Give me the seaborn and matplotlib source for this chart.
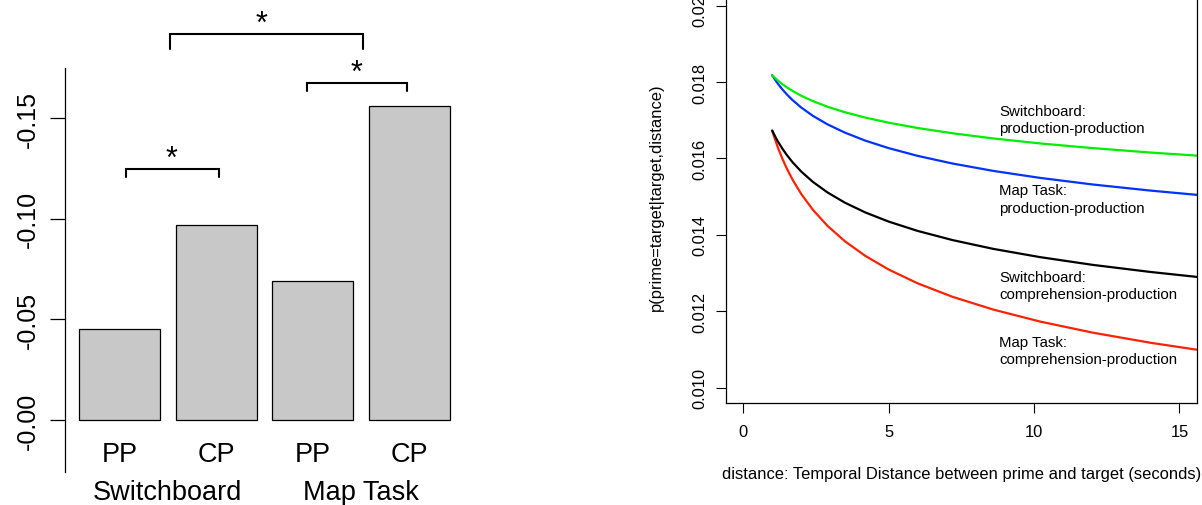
import numpy as np
import pandas as pd
import matplotlib
matplotlib.use('Agg')
import matplotlib.pyplot as plt
import seaborn as sns

# left panel: priming effects per corpus and condition (drawn on an inverted axis)
bar_ids = ['SB-PP', 'SB-CP', 'MT-PP', 'MT-CP']
conditions = ['PP', 'CP', 'PP', 'CP']
corpora = ['Switchboard', 'Map Task']
effects = [-0.0454, -0.0968, -0.0689, -0.1559]
effect_ticks = [0.0, -0.05, -0.10, -0.15]
effect_ticklabels = ['-0.00', '-0.05', '-0.10', '-0.15']

# significance brackets: left x, right x, top, leg end, star x
brackets = [(0.07, 1.03, -0.1248, -0.1206, 0.54),
            (1.94, 2.97, -0.1678, -0.1634, 2.45),
            (0.52, 2.52, -0.1920, -0.1847, 1.47)]

# right panel: values
distance = [1.0, 1.1, 1.2, 1.35, 1.5, 1.7, 2.0, 2.4, 2.9, 3.5, 4.2, 5.0,
            6.0, 7.2, 8.6, 10.2, 12.0, 14.0, 15.6]
sb_pp = [0.01818, 0.018106, 0.018038, 0.017946, 0.017865, 0.017768, 0.017642,
         0.017501, 0.017355, 0.017211, 0.017071, 0.016938, 0.016798, 0.01666,
         0.016525, 0.016395, 0.016273, 0.016156, 0.016075]
mt_pp = [0.01818, 0.018061, 0.017953, 0.017808, 0.01768, 0.017528, 0.017333,
         0.017116, 0.016894, 0.016677, 0.016468, 0.016272, 0.016069, 0.015868,
         0.015675, 0.015493, 0.015321, 0.01516, 0.015048]
sb_cp = [0.01673, 0.016578, 0.016441, 0.016257, 0.016094, 0.015902, 0.015657,
         0.015387, 0.015112, 0.014843, 0.014588, 0.014349, 0.014104, 0.013864,
         0.013634, 0.013419, 0.013217, 0.01303, 0.0129]
mt_cp = [0.01673, 0.016493, 0.016279, 0.015993, 0.015741, 0.015446, 0.015069,
         0.014656, 0.014238, 0.013833, 0.013451, 0.013095, 0.012732, 0.012379,
         0.012045, 0.011733, 0.011444, 0.011177, 0.010994]
curve_names = ['Map Task:\nproduction-production', 'Switchboard:\nproduction-production',
               'Map Task:\ncomprehension-production', 'Switchboard:\ncomprehension-production']
curve_colors = ['#0033ff', '#00ee00', '#ff2200', 'black']
curve_label_y = [0.01494, 0.01703, 0.01097, 0.01267]
label_x = 8.81

sns.set_style('ticks')
plt.rcParams['font.family'] = ['Liberation Sans', 'DejaVu Sans']
plt.rcParams.update({'text.color': 'black', 'axes.labelcolor': 'black',
                     'xtick.color': 'black', 'ytick.color': 'black',
                     'axes.edgecolor': 'black'})

fig = plt.figure(figsize=(12.02, 5.06), dpi=100)

# ---- left: bars
ax1 = fig.add_axes([0.0541, 0.0658, 0.332, 0.797])
bars = pd.DataFrame({'bar': bar_ids, 'effect': effects})
sns.barplot(data=bars, x='bar', y='effect', order=bar_ids, color='#c8c8c8',
            saturation=1, edgecolor='black', linewidth=0.9, width=0.84,
            errorbar=None, ax=ax1)
ax1.set_xlim(-0.564, 3.564)
ax1.set_ylim(0.0257, -0.1748)
sns.despine(ax=ax1, bottom=True)
ax1.spines['left'].set_linewidth(0.9)
ax1.set_yticks(effect_ticks)
ax1.set_yticklabels(effect_ticklabels)
ax1.tick_params(axis='y', left=True, length=10.8, width=0.9, pad=7, labelsize=18)
plt.setp(ax1.get_yticklabels(), rotation=90, va='center')
ax1.set_xticks([])
ax1.set_xlabel('')
ax1.set_ylabel('')

for i, cond in enumerate(conditions):
    ax1.text(i, 0.0202, cond, ha='center', va='baseline', fontsize=19.5)
for j, corpus in enumerate(corpora):
    ax1.text(2 * j + 0.5, 0.0393, corpus, ha='center', va='baseline', fontsize=19.5)

for x0, x1, top, leg, sx in brackets:
    ax1.plot([x0, x0, x1, x1], [leg, top, top, leg], color='black', lw=1.5,
             solid_joinstyle='miter', clip_on=False)
    ax1.text(sx, top - 0.0008, '*', ha='center', va='baseline',
             fontsize=22, clip_on=False)

# ---- right: decay curves
ax2 = fig.add_axes([0.6037, 0.2016, 0.3921, 0.8154])
curves = pd.DataFrame({
    'distance': distance * 4,
    'p': mt_pp + sb_pp + mt_cp + sb_cp,
    'curve': np.repeat(curve_names, len(distance)),
})
sns.lineplot(data=curves, x='distance', y='p', hue='curve', hue_order=curve_names,
             palette=dict(zip(curve_names, curve_colors)), estimator=None,
             sort=False, lw=1.6, legend=False, ax=ax2)
ax2.set_xlim(-0.6, 15.6)
ax2.set_ylim(0.0096, 0.0204)
for s in ax2.spines.values():
    s.set_visible(True)
    s.set_linewidth(0.9)
ax2.set_xticks([0, 5, 10, 15])
yt = [0.010, 0.012, 0.014, 0.016, 0.018, 0.020]
ax2.set_yticks(yt)
ax2.set_yticklabels([f'{v:.3f}' for v in yt])
ax2.tick_params(axis='both', length=7.2, width=0.8, labelsize=11.9)
ax2.tick_params(axis='x', bottom=True, pad=8.0)
ax2.tick_params(axis='y', left=True, pad=6.2)
plt.setp(ax2.get_yticklabels(), rotation=90, va='center')

for name, y in zip(curve_names, curve_label_y):
    ax2.text(label_x, y, name, ha='left', va='center', fontsize=10.8,
             linespacing=1.28)

ax2.set_xlabel('distance: Temporal Distance between prime and target (seconds)', fontsize=11.9)
ax2.set_ylabel('p(prime=target|target,distance)', fontsize=11.9)
ax2.xaxis.label.set_verticalalignment('center')
ax2.yaxis.label.set_verticalalignment('center')
ax2.xaxis.set_label_coords(0.5, -0.172)
ax2.yaxis.set_label_coords(-0.1464, 0.5)

fig.savefig('out.png', dpi=100)
